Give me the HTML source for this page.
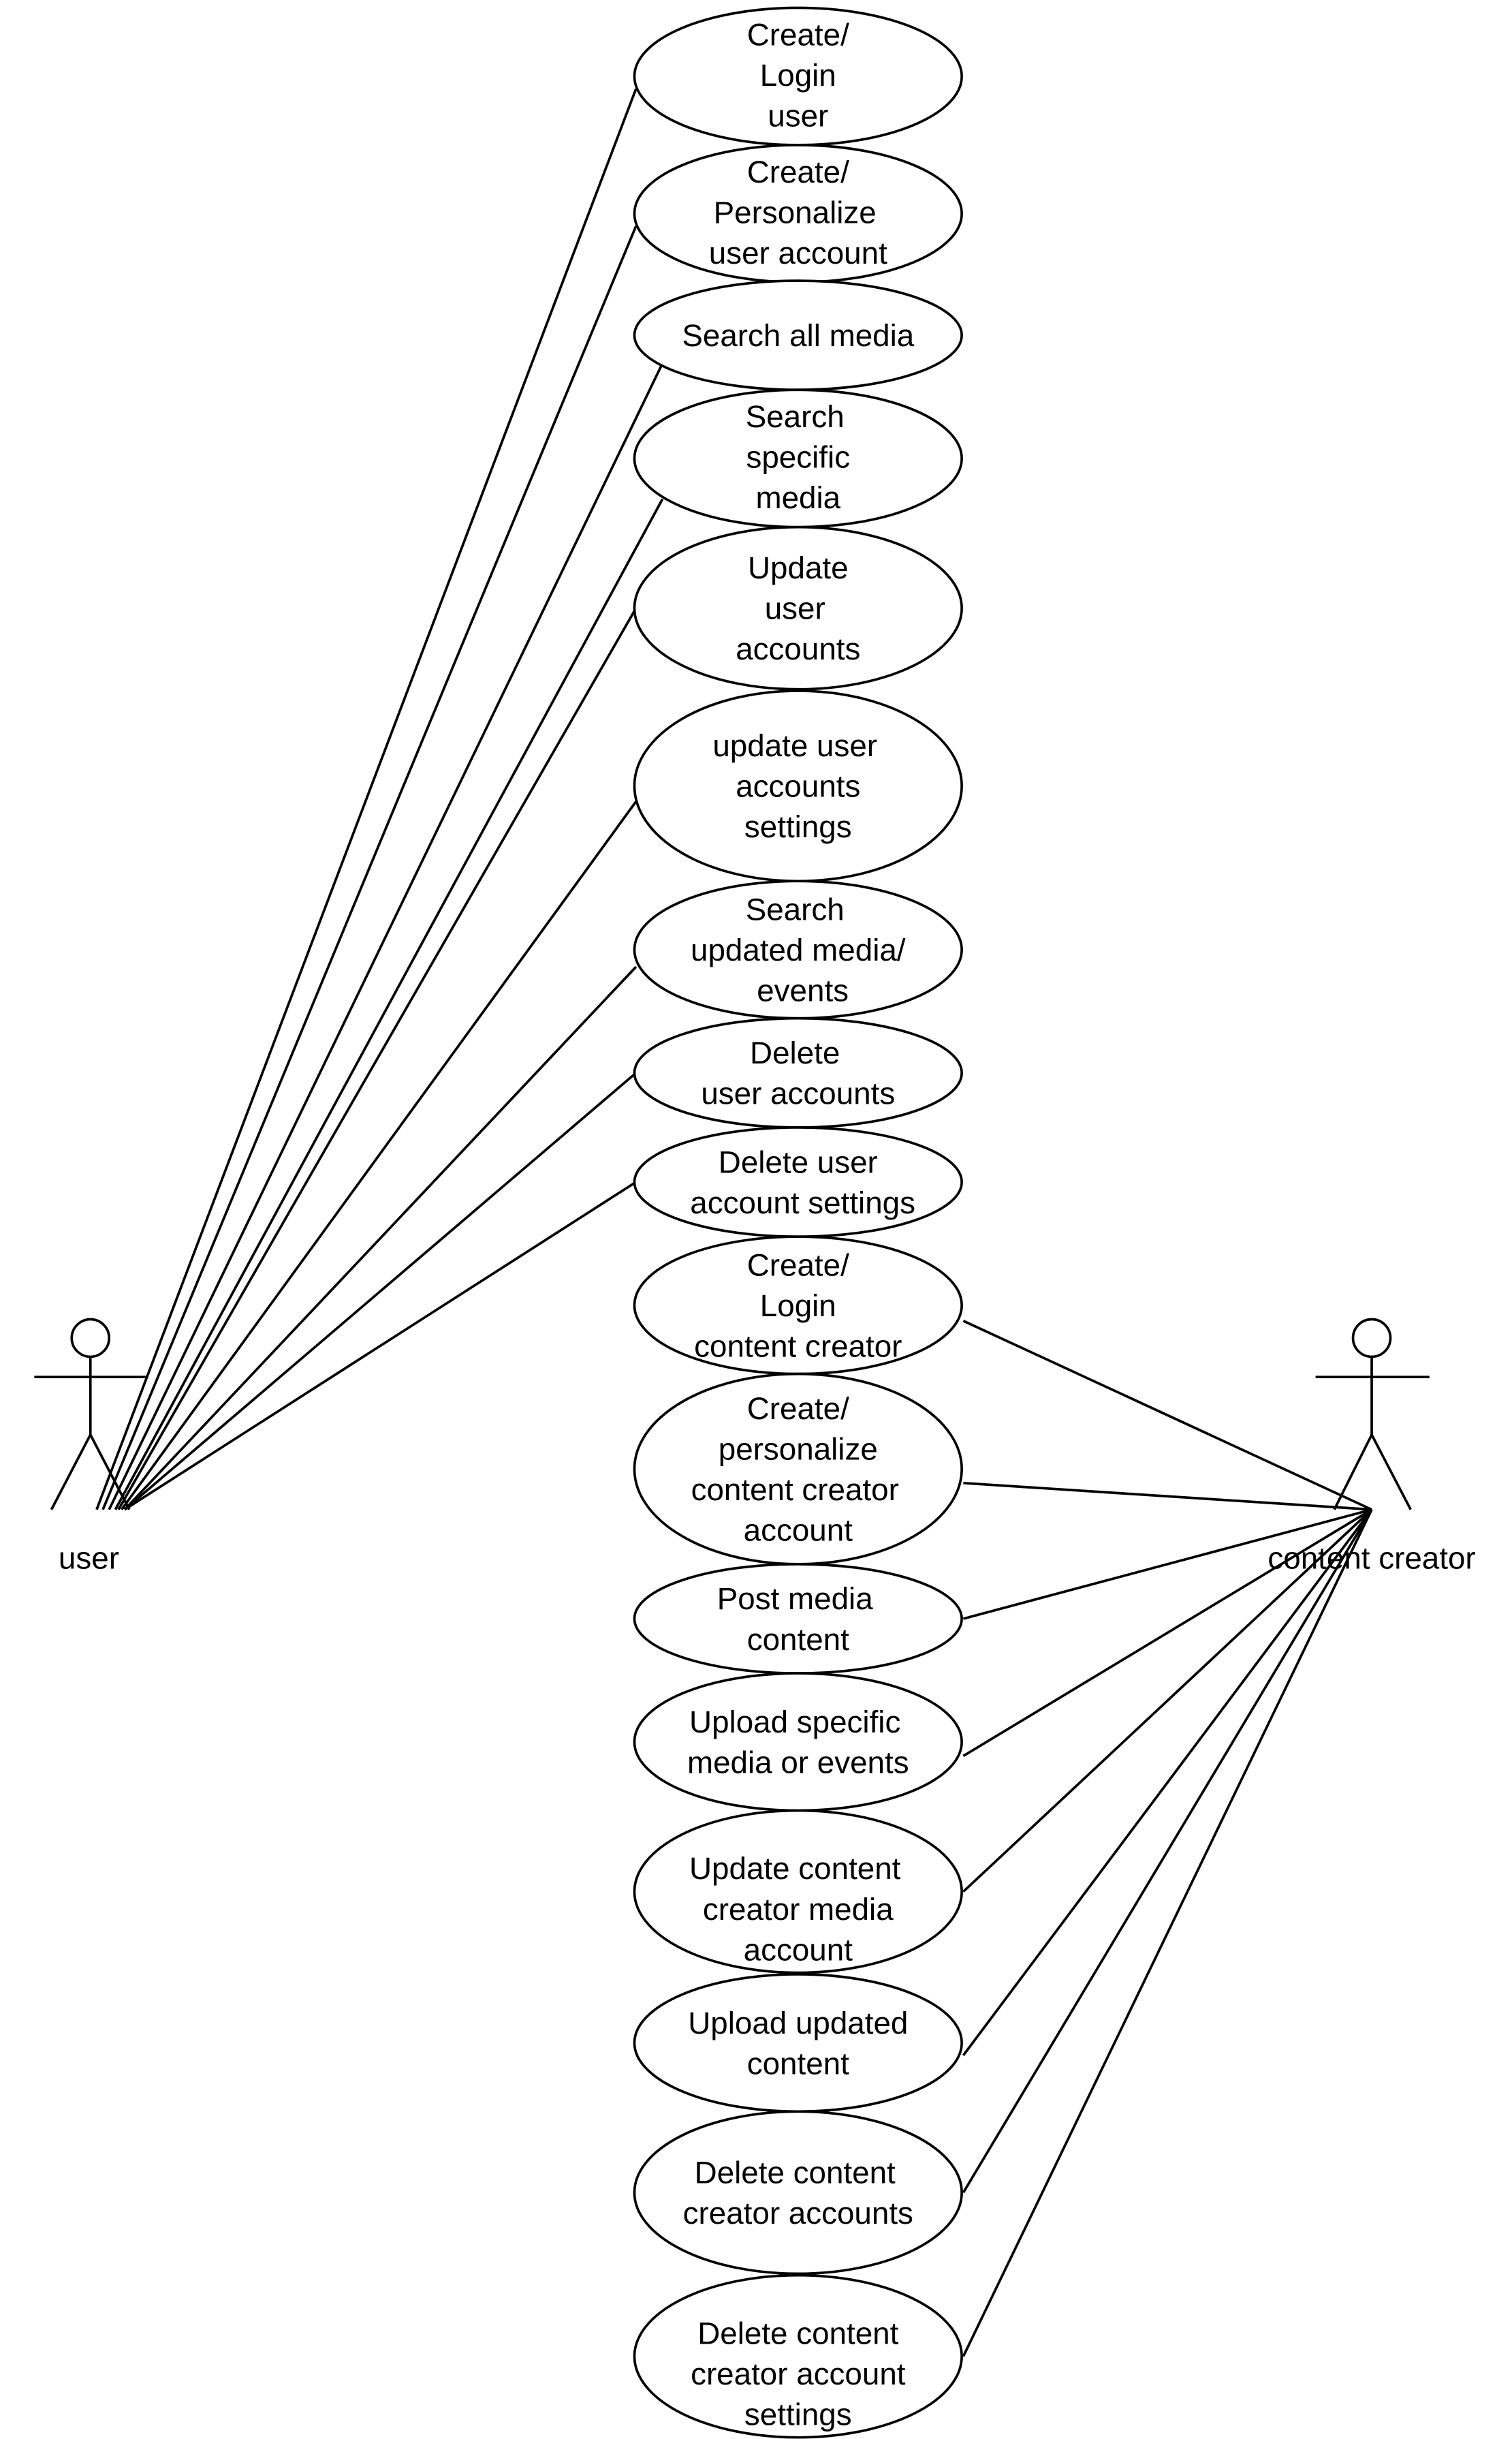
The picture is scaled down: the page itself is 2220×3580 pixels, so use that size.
<!DOCTYPE html>
<html><head><meta charset="utf-8"><style>
html,body{margin:0;padding:0;background:#fff;}
svg{display:block;}
text{font-family:"Liberation Sans",sans-serif;font-size:20px;fill:#000;text-anchor:middle;}
</style></head><body>
<svg width="2220" height="3580" viewBox="0 0 970 1564" preserveAspectRatio="none" xmlns="http://www.w3.org/2000/svg">
<rect width="970" height="1564" fill="#fff"/>
<g stroke="#000" stroke-width="1.6" fill="none">
<!-- user lines -->
<line x1="62" y1="968" x2="408" y2="57"/>
<line x1="66" y1="968" x2="408" y2="145"/>
<line x1="70" y1="968" x2="425" y2="233"/>
<line x1="74" y1="968" x2="425" y2="320"/>
<line x1="76" y1="968" x2="408" y2="390"/>
<line x1="78" y1="968" x2="408" y2="514"/>
<line x1="80" y1="968" x2="408" y2="620"/>
<line x1="80" y1="968" x2="408" y2="688"/>
<line x1="80" y1="968" x2="408" y2="758"/>
<!-- creator lines -->
<line x1="880" y1="968" x2="618" y2="847"/>
<line x1="880" y1="968" x2="618" y2="951"/>
<line x1="880" y1="968" x2="618" y2="1038"/>
<line x1="880" y1="968" x2="618" y2="1126"/>
<line x1="880" y1="968" x2="618" y2="1213"/>
<line x1="880" y1="968" x2="618" y2="1318"/>
<line x1="880" y1="968" x2="618" y2="1406"/>
<line x1="880" y1="968" x2="618" y2="1511"/>
<!-- actors -->
<circle cx="58" cy="858" r="12"/>
<line x1="58" y1="870" x2="58" y2="920"/>
<line x1="22" y1="883" x2="95" y2="883"/>
<line x1="58" y1="920" x2="33" y2="968"/>
<line x1="58" y1="920" x2="83" y2="968"/>
<circle cx="880" cy="858" r="12"/>
<line x1="880" y1="870" x2="880" y2="920"/>
<line x1="844" y1="883" x2="917" y2="883"/>
<line x1="880" y1="920" x2="856" y2="968"/>
<line x1="880" y1="920" x2="905" y2="968"/>
</g>
<g stroke="#000" stroke-width="1.6" fill="#fff">
<ellipse cx="512" cy="49" rx="105" ry="44"/>
<ellipse cx="512" cy="137" rx="105" ry="44"/>
<ellipse cx="512" cy="215" rx="105" ry="35"/>
<ellipse cx="512" cy="294" rx="105" ry="44"/>
<ellipse cx="512" cy="390" rx="105" ry="52"/>
<ellipse cx="512" cy="504" rx="105" ry="61"/>
<ellipse cx="512" cy="609" rx="105" ry="44"/>
<ellipse cx="512" cy="688" rx="105" ry="35"/>
<ellipse cx="512" cy="758" rx="105" ry="35"/>
<ellipse cx="512" cy="837" rx="105" ry="44"/>
<ellipse cx="512" cy="942" rx="105" ry="61"/>
<ellipse cx="512" cy="1038" rx="105" ry="35"/>
<ellipse cx="512" cy="1117" rx="105" ry="44"/>
<ellipse cx="512" cy="1213" rx="105" ry="52"/>
<ellipse cx="512" cy="1310" rx="105" ry="44"/>
<ellipse cx="512" cy="1406" rx="105" ry="52"/>
<ellipse cx="512" cy="1511" rx="105" ry="52"/>
</g>
<text x="512" y="29">Create/</text><text x="512" y="55">Login</text><text x="512" y="81">user</text>
<text x="512" y="117">Create/</text><text x="510" y="143">Personalize</text><text x="512" y="169">user account</text>
<text x="512" y="222">Search all media</text>
<text x="510" y="274">Search</text><text x="512" y="300">specific</text><text x="512" y="326">media</text>
<text x="512" y="371">Update</text><text x="510" y="397">user</text><text x="512" y="423">accounts</text>
<text x="510" y="485">update user</text><text x="512" y="511">accounts</text><text x="512" y="537">settings</text>
<text x="510" y="590">Search</text><text x="512" y="616">updated media/</text><text x="515" y="642">events</text>
<text x="510" y="682">Delete</text><text x="512" y="708">user accounts</text>
<text x="512" y="752">Delete user</text><text x="515" y="778">account settings</text>
<text x="512" y="818">Create/</text><text x="512" y="844">Login</text><text x="512" y="870">content creator</text>
<text x="512" y="910">Create/</text><text x="512" y="936">personalize</text><text x="510" y="962">content creator</text><text x="512" y="988">account</text>
<text x="510" y="1032">Post media</text><text x="512" y="1058">content</text>
<text x="510" y="1111">Upload specific</text><text x="512" y="1137">media or events</text>
<text x="510" y="1205">Update content</text><text x="512" y="1231">creator  media</text><text x="512" y="1257">account</text>
<text x="512" y="1304">Upload updated</text><text x="512" y="1330">content</text>
<text x="510" y="1400">Delete content</text><text x="512" y="1426">creator accounts</text>
<text x="512" y="1503">Delete content</text><text x="512" y="1529">creator account</text><text x="512" y="1555">settings</text>
<text x="57" y="1006">user</text>
<text x="880" y="1006">content creator</text>
</svg>
</body></html>
